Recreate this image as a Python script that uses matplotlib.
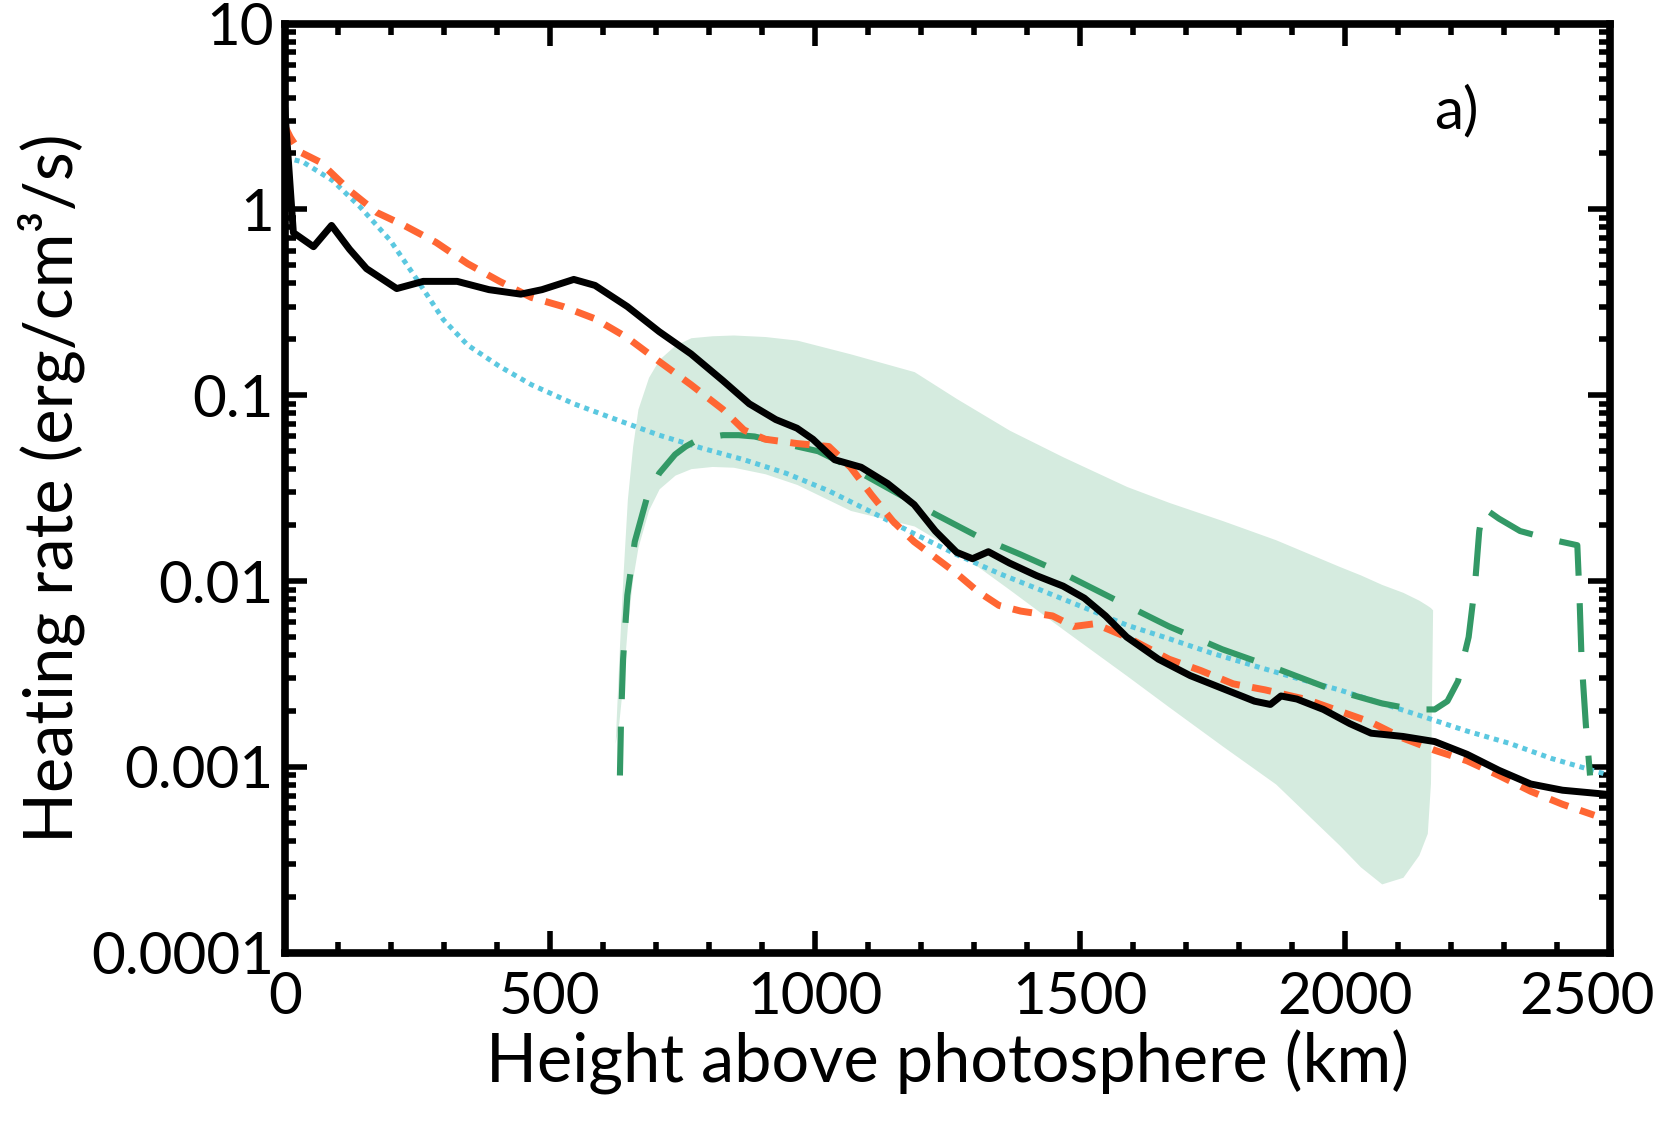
import numpy as np
import matplotlib
matplotlib.use("Agg")
import matplotlib.pyplot as plt
from matplotlib.ticker import FixedLocator, LogLocator, FuncFormatter

plt.rcParams['font.family'] = ['Lato', 'DejaVu Sans']

# axis ticks
x_ticks = [0, 500, 1000, 1500, 2000, 2500]
y_ticks = [1e-4, 1e-3, 1e-2, 1e-1, 1, 10]

# black solid curve
black_x = [0, 16, 54, 88, 122, 154, 211, 261, 325, 385, 445, 485, 545, 585, 646, 706,
           766, 826, 876, 926, 966, 996, 1037, 1087, 1137, 1187, 1227, 1267, 1297, 1327,
           1367, 1418, 1468, 1508, 1548, 1588, 1648, 1708, 1768, 1829, 1859, 1879, 1909,
           1959, 2009, 2049, 2109, 2169, 2230, 2290, 2350, 2410, 2500]
black_y = [3.4, 0.75, 0.63, 0.82, 0.61, 0.48, 0.375, 0.41, 0.41, 0.37, 0.35, 0.37, 0.42,
           0.39, 0.30, 0.22, 0.167, 0.12, 0.090, 0.074, 0.0665, 0.058, 0.045, 0.041, 0.0335,
           0.0258, 0.0186, 0.0143, 0.0132, 0.0144, 0.0125, 0.0107, 0.0094, 0.0081, 0.0065,
           0.0050, 0.0038, 0.0031, 0.00265, 0.00226, 0.00217, 0.00241, 0.00232, 0.00204,
           0.00171, 0.00152, 0.00146, 0.00137, 0.00117, 0.00096, 0.00081, 0.00075, 0.00071]

# orange short-dashed curve
orange_x = [0, 10, 28, 66, 124, 174, 225, 285, 345, 405, 465, 525, 585, 646, 706, 766, 826,
            866, 906, 966, 1026, 1067, 1107, 1147, 1187, 1227, 1267, 1307, 1347, 1388, 1448,
            1488, 1528, 1588, 1668, 1728, 1789, 1849, 1929, 1989, 2049, 2109, 2169, 2230,
            2290, 2350, 2410, 2470]
orange_y = [2.8, 2.45, 2.04, 1.8, 1.25, 0.96, 0.82, 0.665, 0.51, 0.41, 0.336, 0.30, 0.258,
            0.204, 0.152, 0.114, 0.084, 0.065, 0.058, 0.055, 0.053, 0.041, 0.029, 0.021,
            0.0163, 0.0134, 0.011, 0.0088, 0.0074, 0.0069, 0.0065, 0.0057, 0.0059, 0.0050,
            0.0038, 0.0033, 0.0028, 0.0026, 0.0023, 0.0020, 0.00174, 0.00143, 0.00123,
            0.00108, 0.0009, 0.00074, 0.00063, 0.00055]

# cyan dotted curve
cyan_x = [0, 34, 90, 142, 199, 249, 299, 345, 405, 465, 545, 625, 706, 786, 866, 946,
          1026, 1107, 1187, 1267, 1347, 1428, 1508, 1588, 1668, 1748, 1829, 1909, 1989,
          2069, 2149, 2230, 2310, 2390, 2500]
cyan_y = [1.9, 1.8, 1.43, 1.03, 0.68, 0.42, 0.255, 0.186, 0.143, 0.114, 0.09, 0.074,
          0.061, 0.052, 0.045, 0.038, 0.0306, 0.0235, 0.018, 0.0139, 0.011, 0.0089, 0.0072,
          0.0058, 0.0049, 0.0041, 0.0035, 0.0030, 0.0026, 0.0022, 0.00186, 0.00156, 0.00134,
          0.00111, 0.0009]

# green long-dashed curve
green_x = [632, 634, 638, 646, 660, 682, 706, 736, 756, 776, 796, 826, 856, 886, 946, 1006,
           1067, 1147, 1227, 1307, 1388, 1468, 1568, 1668, 1768, 1869, 1969, 2069, 2129, 2169,
           2193, 2213, 2233, 2245, 2253, 2261, 2290, 2330, 2390, 2438, 2442, 2446, 2454, 2462]
green_y = [0.0009, 0.00174, 0.0038, 0.0084, 0.0163, 0.0275, 0.038, 0.048, 0.053, 0.057, 0.059,
           0.061, 0.061, 0.060, 0.0546, 0.050, 0.041, 0.0306, 0.0229, 0.0174, 0.0139, 0.011,
           0.0079, 0.0057, 0.0043, 0.0034, 0.00265, 0.0022, 0.00204, 0.00204, 0.00226, 0.0029,
           0.005, 0.0096, 0.0186, 0.0248, 0.0217, 0.0186, 0.0167, 0.0156, 0.0084, 0.0038,
           0.0017, 0.0009]

# shaded band
band_x = [623, 630, 638, 646, 656, 666, 686, 706, 736, 766, 806, 846, 906, 966, 1067, 1187,
          1267, 1367, 1468, 1588, 1668, 1768, 1869, 1989, 2029, 2069, 2109, 2139, 2155, 2161, 2165]
band_hi = [0.00134, 0.00383, 0.011, 0.0275, 0.0532, 0.0843, 0.125, 0.156, 0.186, 0.204, 0.209,
           0.211, 0.207, 0.198, 0.167, 0.134, 0.096, 0.0648, 0.0466, 0.0323, 0.0265, 0.0212,
           0.0167, 0.012, 0.0108, 0.0096, 0.0087, 0.0079, 0.0074, 0.0072, 0.0070]
band_lo = [0.00134, 0.00174, 0.00294, 0.00568, 0.0103, 0.0152, 0.0241, 0.0314, 0.0372, 0.0403,
           0.0414, 0.041, 0.0378, 0.0331, 0.024, 0.0198, 0.0145, 0.009, 0.0055, 0.0031, 0.0021,
           0.0013, 0.00081, 0.00038, 0.00029, 0.000235, 0.000255, 0.000336, 0.00044, 0.00082,
           0.0070]

fig = plt.figure(figsize=(16.66, 11.21), dpi=100)
ax = fig.add_axes([0.171, 0.150, 0.7955, 0.829])

ax.fill_between(band_x, band_lo, band_hi, color='#d5ebdf', lw=0, zorder=1)
ax.plot(cyan_x, cyan_y, color='#5bc8e0', lw=3.6, dashes=(1, 1), zorder=2)
ax.plot(green_x, green_y, color='#339966', lw=4.4, dashes=(8, 4.5), zorder=3)
ax.plot(orange_x, orange_y, color='#ff6633', lw=5, dashes=(2.8, 1.8), zorder=4)
ax.plot(black_x, black_y, color='black', lw=5, zorder=5)

ax.set_yscale('log')
ax.set_xlim(x_ticks[0], x_ticks[-1])
ax.set_ylim(y_ticks[0], y_ticks[-1])

ax.xaxis.set_major_locator(FixedLocator(x_ticks))
ax.xaxis.set_minor_locator(FixedLocator(np.arange(x_ticks[0], x_ticks[-1] + 1, 100)))
ax.yaxis.set_major_locator(FixedLocator(y_ticks))
ax.yaxis.set_minor_locator(LogLocator(base=10, subs=np.arange(2, 10)))
ax.yaxis.set_major_formatter(FuncFormatter(lambda v, _: f'{v:g}'))
# last x label is drawn separately, nudged left of its tick like the original
ax.xaxis.set_major_formatter(FuncFormatter(lambda v, _: '' if v == x_ticks[-1] else f'{v:g}'))

for s in ax.spines.values():
    s.set_linewidth(5.5)
ax.tick_params(which='both', direction='in', top=True, right=True, labelsize=42)
ax.tick_params(which='major', length=16, width=4)
ax.tick_params(which='minor', length=8, width=4)
ax.tick_params(axis='x', pad=13)
ax.tick_params(axis='y', pad=8)

ax.annotate(f'{x_ticks[-1]:g}', xy=(x_ticks[-1], 0), xycoords=ax.get_xaxis_transform(),
            xytext=(-17, -13), textcoords='offset points', ha='center', va='top',
            fontsize=42, annotation_clip=False)

ax.set_xlabel('Height above photosphere (km)', fontsize=48, labelpad=4)
ax.set_ylabel('Heating rate (erg/cm³/s)', fontsize=48, labelpad=4)
ax.text(0.884, 0.905, 'a)', transform=ax.transAxes, fontsize=42, ha='center', va='center')

fig.savefig('out.png', dpi=100)
